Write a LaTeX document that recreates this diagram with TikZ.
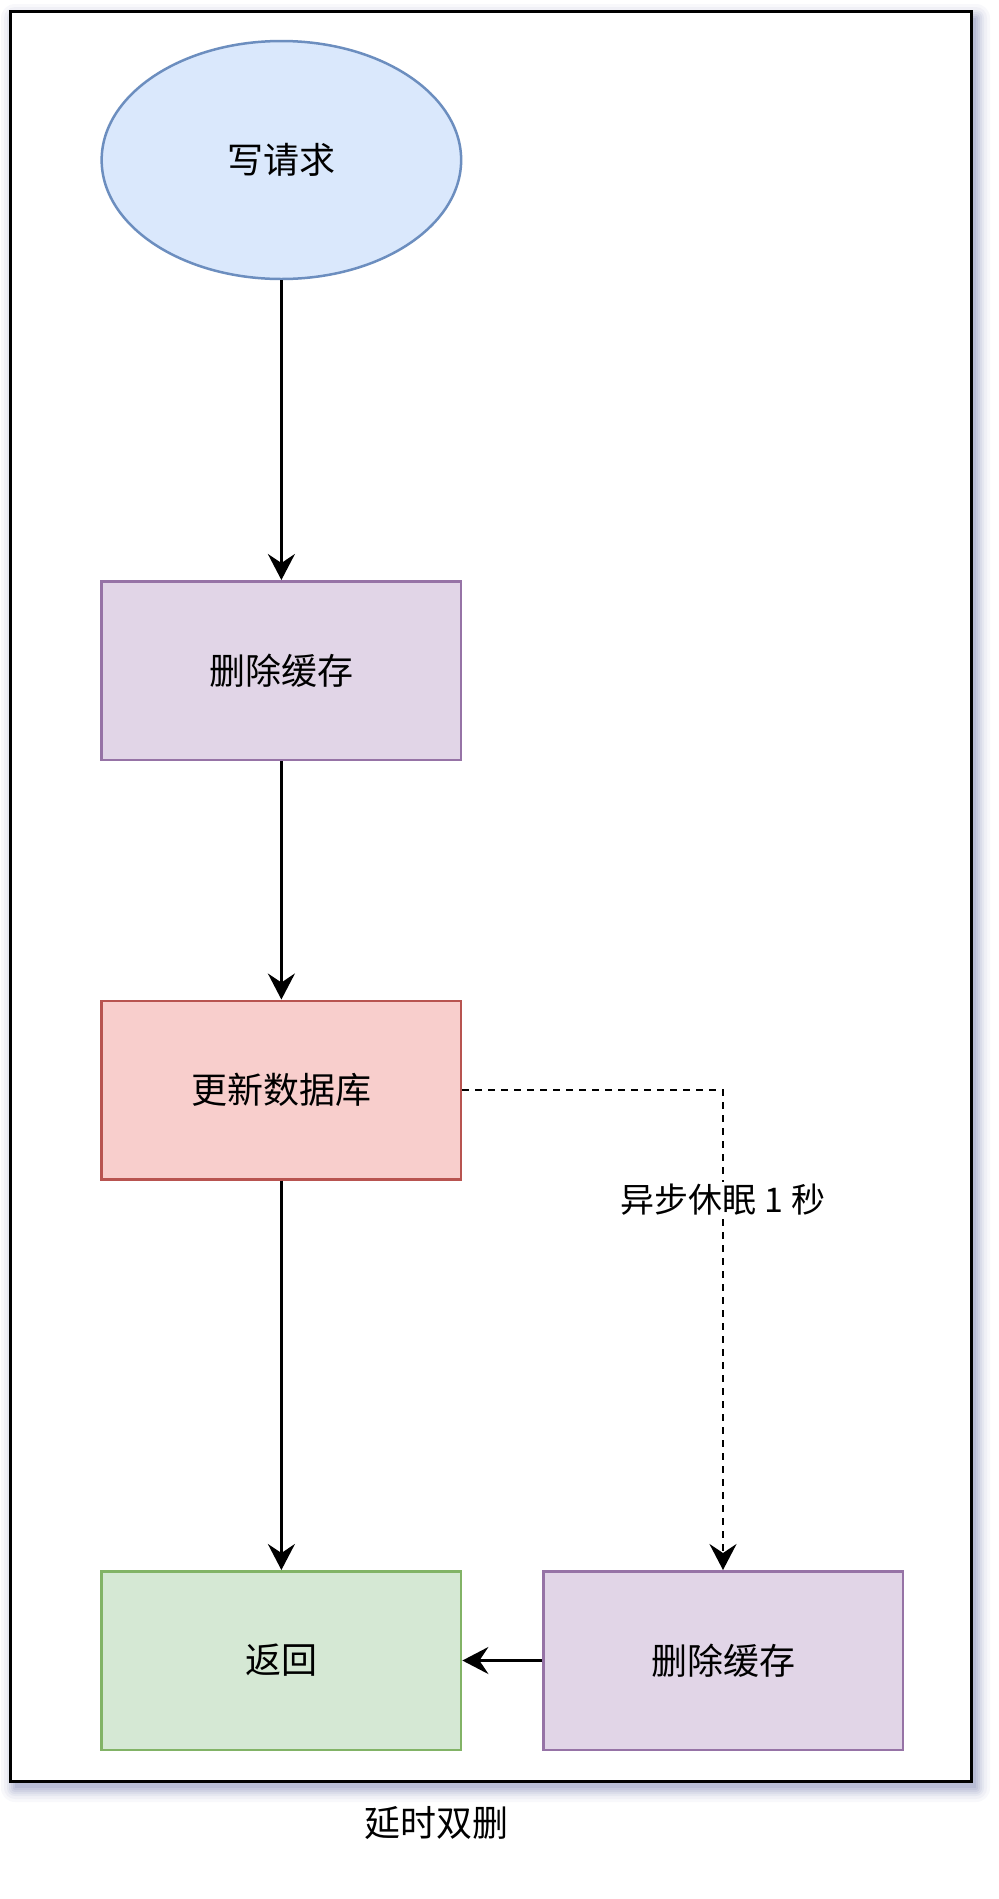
\documentclass[tikz,border=0pt]{standalone}
\usepackage{fontspec}
\setmainfont{Noto Sans CJK SC}
\usetikzlibrary{arrows.meta,shapes.geometric,positioning}
\definecolor{blueFill}{HTML}{DAE8FC}
\definecolor{blueLine}{HTML}{6C8EBF}
\definecolor{purpleFill}{HTML}{E1D5E7}
\definecolor{purpleLine}{HTML}{9673A6}
\definecolor{redFill}{HTML}{F8CECC}
\definecolor{redLine}{HTML}{B85450}
\definecolor{greenFill}{HTML}{D5E8D4}
\definecolor{greenLine}{HTML}{82B366}
\definecolor{shadowCol}{RGB}{110,118,170}
\tikzset{
  boxnode/.style={rectangle, minimum width=359.5pt, minimum height=178.5pt, line width=2.5pt, inner sep=0pt, font=\fontsize{36pt}{40pt}\selectfont},
  flowarrow/.style={line width=2.8pt, -{Stealth[length=26pt, width=27pt, inset=9pt]}},
  labeltext/.style={fill=white, inner sep=2pt, font=\fontsize{34pt}{38pt}\selectfont},
}
\begin{document}
\begin{tikzpicture}[x=1pt,y=-1pt]
\useasboundingbox (0,0) rectangle (999,1899);
% frame shadow
\foreach \r/\o in {14/0.05,11/0.06,8/0.08,6/0.09,4/0.10,2/0.12,0/0.14}{
  \fill[shadowCol, opacity=\o, rounded corners=\r pt] (15-\r,18-\r) rectangle (976+\r,1788+\r);
}
\node[draw=black, fill=white, line width=3pt, rectangle, minimum width=960.5pt, minimum height=1769.5pt, inner sep=0pt] (frame) at (490.75,896.25) {};
% nodes
\node[ellipse, draw=blueLine, fill=blueFill, line width=2.5pt, minimum width=359.5pt, minimum height=238pt, inner sep=0pt, font=\fontsize{36pt}{40pt}\selectfont] (req) at (281.4,160) {写请求};
\node[boxnode, draw=purpleLine, fill=purpleFill] (del1) at (281.4,670.5) {删除缓存};
\node[boxnode, draw=redLine, fill=redFill] (db) at (281.4,1090) {更新数据库};
\node[boxnode, draw=greenLine, fill=greenFill] (ret) at (281.4,1660.5) {返回};
\node[boxnode, draw=purpleLine, fill=purpleFill] (del2) at (723,1660.5) {删除缓存};
% connectors
\draw[flowarrow] (req) -- (del1);
\draw[flowarrow] (del1) -- (db);
\draw[flowarrow] (db) -- (ret);
\draw[flowarrow] (del2) -- (ret);
\draw[flowarrow, dash pattern=on 7pt off 6pt] (db.east) -| (del2.north);
\node[labeltext] (lbl) at (723,1200) {异步休眠 1 秒};
% title
\node[font=\fontsize{36pt}{40pt}\selectfont, inner sep=0pt] (title) at (436,1823) {延时双删};
\end{tikzpicture}
\end{document}
